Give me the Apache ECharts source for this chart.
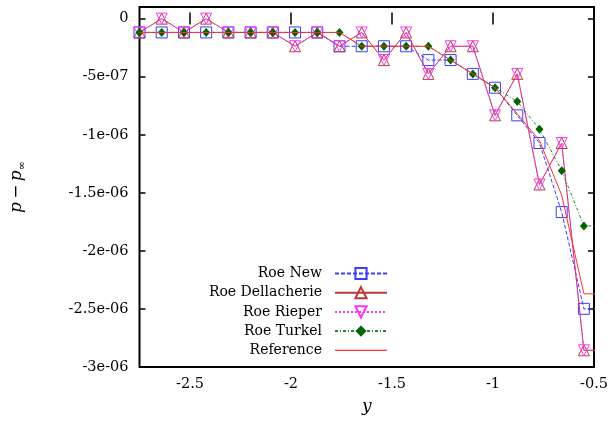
<!DOCTYPE html>
<html>
<head>
<meta charset="utf-8">
<script src="https://cdn.jsdelivr.net/npm/echarts@6/dist/echarts.min.js"></script>
<style>
html,body{margin:0;padding:0;background:#fff;}
#chart{width:611px;height:423px;}
</style>
</head>
<body>
<div id="chart"></div>
<script>
// Data
const xValues = [-2.75,-2.64,-2.53,-2.42,-2.31,-2.20,-2.09,-1.98,-1.87,-1.76,-1.65,-1.54,-1.43,-1.32,-1.21,-1.10,-0.99,-0.88,-0.77,-0.66,-0.55,-0.44];
const roeNew = [-1.19e-7,-1.19e-7,-1.19e-7,-1.19e-7,-1.19e-7,-1.19e-7,-1.19e-7,-1.19e-7,-1.19e-7,-2.38e-7,-2.38e-7,-2.38e-7,-2.38e-7,-3.57e-7,-3.57e-7,-4.76e-7,-5.95e-7,-8.33e-7,-1.071e-6,-1.666e-6,-2.499e-6,-2.499e-6];
const roeDellacherie = [-1.19e-7,0,-1.19e-7,0,-1.19e-7,-1.19e-7,-1.19e-7,-2.38e-7,-1.19e-7,-2.38e-7,-1.19e-7,-3.57e-7,-1.19e-7,-4.76e-7,-2.38e-7,-2.38e-7,-8.33e-7,-4.76e-7,-1.428e-6,-1.071e-6,-2.856e-6,-2.856e-6];
const roeRieper = [-1.19e-7,0,-1.19e-7,0,-1.19e-7,-1.19e-7,-1.19e-7,-2.38e-7,-1.19e-7,-2.38e-7,-1.19e-7,-3.57e-7,-1.19e-7,-4.76e-7,-2.38e-7,-2.38e-7,-8.33e-7,-4.76e-7,-1.428e-6,-1.071e-6,-2.856e-6,-2.856e-6];
const roeTurkel = [-1.19e-7,-1.19e-7,-1.19e-7,-1.19e-7,-1.19e-7,-1.19e-7,-1.19e-7,-1.19e-7,-1.19e-7,-1.19e-7,-2.38e-7,-2.38e-7,-2.38e-7,-2.38e-7,-3.57e-7,-4.76e-7,-5.95e-7,-7.14e-7,-9.52e-7,-1.309e-6,-1.785e-6,-1.785e-6];
const reference = [-1.19e-7,-1.19e-7,-1.19e-7,-1.19e-7,-1.19e-7,-1.19e-7,-1.19e-7,-1.19e-7,-1.19e-7,-1.19e-7,-2.38e-7,-2.38e-7,-2.38e-7,-2.38e-7,-3.57e-7,-4.76e-7,-5.95e-7,-8.2e-7,-1.05e-6,-1.52e-6,-2.37e-6,-2.37e-6];
const seriesNames = ['Roe New','Roe Dellacherie','Roe Rieper','Roe Turkel','Reference'];
const xTickValues = [-2.5,-2,-1.5,-1,-0.5];
const xTickLabels = ['-2.5','-2','-1.5','-1','-0.5'];
const yTickValues = [0,-5e-7,-1e-6,-1.5e-6,-2e-6,-2.5e-6,-3e-6];
const yTickLabels = ['0','-5e-07','-1e-06','-1.5e-06','-2e-06','-2.5e-06','-3e-06'];

const FONT = '"DejaVu Serif", "Liberation Serif", serif';
function pairs(ys){ return xValues.map((x,i)=>[x, ys[i]]); }
function labelFor(vals, labs){
  return function(v){
    let best=0, bd=Infinity;
    vals.forEach((t,i)=>{const d=Math.abs(t-v); if(d<bd){bd=d;best=i;}});
    return labs[best];
  };
}

const chart = echarts.init(document.getElementById('chart'), null, {renderer:'canvas'});
const tickStyle = {show:true, inside:true, length:6, lineStyle:{color:'#000', width:1.5}};
const option = {
  animation:false,
  backgroundColor:'#fff',
  grid:{left:138, right:16, top:7, bottom:56, show:true, borderColor:'#000', borderWidth:2, backgroundColor:'transparent'},
  xAxis:[{
    type:'value', min:-2.75, max:-0.5, position:'bottom',
    axisLine:{show:false}, splitLine:{show:false},
    axisTick:Object.assign({customValues:xTickValues}, tickStyle),
    axisLabel:{customValues:xTickValues, formatter:labelFor(xTickValues,xTickLabels), color:'#000', fontFamily:FONT, fontSize:14.5, margin:10},
    name:'y', nameLocation:'middle', nameGap:31,
    nameTextStyle:{fontFamily:FONT, fontStyle:'italic', fontSize:17, color:'#000'}
  },{
    type:'value', min:-2.75, max:-0.5, position:'top',
    axisLine:{show:false}, splitLine:{show:false},
    axisTick:Object.assign({customValues:xTickValues}, tickStyle),
    axisLabel:{show:false}
  }],
  yAxis:[{
    type:'value', min:-3e-6, max:1e-7, position:'left',
    axisLine:{show:false}, splitLine:{show:false},
    axisTick:Object.assign({customValues:yTickValues}, tickStyle),
    axisLabel:{customValues:yTickValues, formatter:labelFor(yTickValues,yTickLabels), color:'#000', fontFamily:FONT, fontSize:14.5, margin:11},
    name:'{i|p} {m|−} {i|p}{s|∞}', nameLocation:'middle', nameGap:112, nameRotate:90,
    nameTextStyle:{color:'#000', rich:{
      i:{fontFamily:FONT, fontStyle:'italic', fontSize:17, color:'#000', lineHeight:22},
      m:{fontFamily:FONT, fontSize:17, color:'#000', lineHeight:22},
      s:{fontFamily:FONT, fontSize:11, color:'#000', lineHeight:22, verticalAlign:'bottom', padding:[6,0,0,0]}
    }}
  },{
    type:'value', min:-3e-6, max:1e-7, position:'right',
    axisLine:{show:false}, splitLine:{show:false},
    axisTick:Object.assign({customValues:yTickValues}, tickStyle),
    axisLabel:{show:false}
  }],
  legend:{
    orient:'vertical', align:'right', right:218, top:260,
    itemWidth:52, itemHeight:14, itemGap:2.2,
    textStyle:{fontFamily:FONT, fontSize:14, lineHeight:17, color:'#000', padding:[0,8,0,0]},
    data:[
      {name:'Roe New'},{name:'Roe Dellacherie'},{name:'Roe Rieper'},{name:'Roe Turkel'},
      {name:'Reference', icon:'path://M0,0H52V1.3H0Z'}
    ]
  },
  series:[
    {name:seriesNames[0], type:'line', data:pairs(roeNew), symbol:'rect', symbolSize:11, showAllSymbol:true,
     itemStyle:{color:'rgba(0,0,0,0)', borderColor:'#3c3cff', borderWidth:1},
     lineStyle:{color:'#3c3cff', width:1, type:[4,2]}, clip:true, z:2},
    {name:seriesNames[1], type:'line', data:pairs(roeDellacherie), symbol:'triangle', symbolSize:11, showAllSymbol:true,
     itemStyle:{color:'rgba(0,0,0,0)', borderColor:'#b83a3a', borderWidth:1},
     lineStyle:{color:'#b83a3a', width:1}, clip:true, z:3},
    {name:seriesNames[2], type:'line', data:pairs(roeRieper), symbol:'triangle', symbolRotate:180, symbolSize:11, showAllSymbol:true,
     itemStyle:{color:'rgba(0,0,0,0)', borderColor:'#ff33ff', borderWidth:1},
     lineStyle:{color:'#ff33ff', width:1, type:[2,2]}, clip:true, z:4},
    {name:seriesNames[3], type:'line', data:pairs(roeTurkel), symbol:'diamond', symbolSize:[8,9], showAllSymbol:true,
     itemStyle:{color:'#006400', borderColor:'#006400', borderWidth:0},
     lineStyle:{color:'#2e7d2e', width:1, type:[3,2,1,2]}, clip:true, z:5},
    {name:seriesNames[4], type:'line', data:pairs(reference), symbol:'none', showSymbol:false,
     itemStyle:{color:'#ff3030'},
     lineStyle:{color:'#ff3030', width:1}, clip:true, z:6}
  ]
};
chart.setOption(option);
</script>
</body>
</html>
